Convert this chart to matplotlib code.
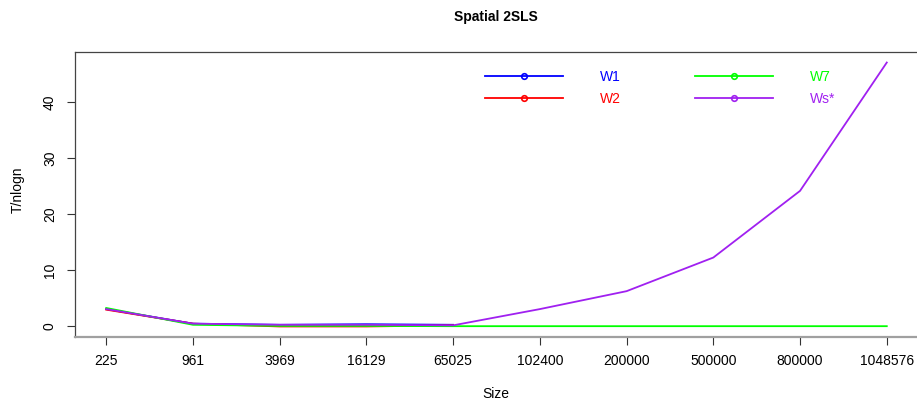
import matplotlib.pyplot as plt
import matplotlib.lines as mlines

# sizes on the x axis (drawn at equal spacing)
sizes = ["225", "961", "3969", "16129", "65025", "102400", "200000", "500000", "800000", "1048576"]

# T/nlogn values
w1 = [3.1, 0.5, 0.3, 0.4, 0.3]
w2 = [3.0, 0.5, 0.0, 0.0, 0.2]
w7 = [3.3, 0.3, 0.1, 0.1, 0.05, 0.05, 0.05, 0.05, 0.05, 0.05]
ws = [3.1, 0.5, 0.3, 0.3, 0.2, 3.1, 6.3, 12.3, 24.2, 47.1]

names = ["W1", "W2", "W7", "Ws*"]
colors = ["#0000ff", "#ff0000", "#00ff00", "#a020f0"]

plt.rcParams['font.family'] = ['Liberation Sans', 'DejaVu Sans']

fig = plt.figure(figsize=(9.17, 4.05), dpi=100)
ax = fig.add_axes([75/917, 1 - 337/405, 843/917, (337 - 52)/405])

pos = list(range(1, len(sizes) + 1))
for vals, c in zip([w1, w2, w7, ws], colors):
    ax.plot(pos[:len(vals)], vals, color=c, lw=1.3, solid_joinstyle='round')

ax.set_xlim(0.64, 10.36)
ax.set_ylim(-1.88, 48.98)
ax.set_xticks(pos)
ax.set_xticklabels(sizes)
ax.set_yticks([0, 10, 20, 30, 40])
ax.set_yticklabels(["0", "10", "20", "30", "40"], rotation=90, va='center')
ax.tick_params(axis='both', length=6, width=0.8, color='#333333', labelsize=10, pad=6)
ax.tick_params(axis='y', pad=7)

for s in ['left', 'top']:
    ax.spines[s].set_color('#444444')
    ax.spines[s].set_linewidth(0.9)
ax.spines['right'].set_visible(False)
ax.spines['bottom'].set_color('#a0a0a0')
ax.spines['bottom'].set_linewidth(1.6)

fig.text(0.5 + 37/917, 1 - 17/405, "Spatial 2SLS", ha='center', va='center',
         fontsize=10, fontweight='bold')
fig.text(0.5 + 37/917, 1 - 394/405, "Size", ha='center', va='center', fontsize=10)
fig.text(18/917, 1 - 190/405, "T/nlogn", ha='center', va='center', fontsize=10, rotation=90)

handles = [mlines.Line2D([], [], color=c, lw=1.3, marker='o', markersize=4,
                         markerfacecolor='none', markeredgewidth=1.2)
           for c in colors]
ax.legend(handles, names, ncol=2, frameon=False, loc='upper left',
          bbox_to_anchor=(485/917, 1 - 70/405), bbox_transform=fig.transFigure,
          handlelength=5.6, handletextpad=2.7, columnspacing=5.3,
          labelspacing=0.6, borderpad=0, borderaxespad=0,
          fontsize=10, labelcolor=colors)

fig.savefig("out.png", dpi=100)
